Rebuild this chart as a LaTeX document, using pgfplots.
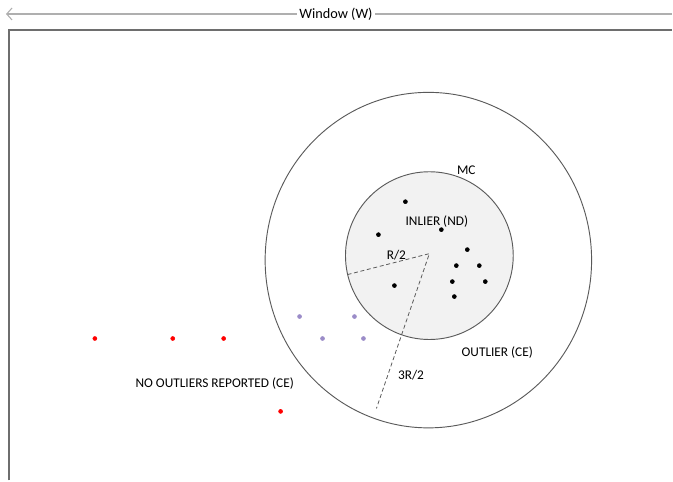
\documentclass[border=0pt]{standalone}
\usepackage{pgfplots}
\pgfplotsset{compat=1.18}
\usepackage{fontspec}
\setmainfont{Carlito}
\usetikzlibrary{arrows.meta}

\definecolor{linegray}{RGB}{90,90,90}
\definecolor{boxgray}{RGB}{110,110,110}
\definecolor{arrowgray}{RGB}{175,175,175}
\definecolor{fillgray}{RGB}{242,242,242}
\definecolor{ptpurple}{RGB}{155,140,200}

\begin{document}
\begin{tikzpicture}
  \begin{axis}[
      scale only axis,
      width=504.75pt, height=360.75pt,
      xmin=0, xmax=673, ymin=0, ymax=481,
      y dir=reverse,
      hide axis,
      clip=false,
      font=\fontsize{10}{12}\selectfont
    ]
    \path (rel axis cs:0,0) rectangle (rel axis cs:1,1);

    % window arrow and frame
    \draw[arrowgray, line width=1.5pt, {Straight Barb[length=4pt,width=9pt,line width=0.8pt]}-]
      (axis cs:6,14) -- (axis cs:673,14);
    \node[fill=white, inner sep=1.5pt, font=\fontsize{10.7}{13}\selectfont] at (axis cs:336.5,14) {Window (W)};
    \draw[boxgray, line width=1.1pt] (axis cs:9,481) -- (axis cs:9,30) -- (axis cs:673,30);

    % outer and inner regions
    \draw[linegray, line width=0.7pt] (axis cs:429,260.5) ellipse [x radius=122.6pt, y radius=126pt];
    \draw[linegray, line width=0.7pt, fill=fillgray] (axis cs:430,256) circle [radius=63pt];

    % radii
    \draw[linegray, line width=0.6pt, dash pattern=on 3pt off 2pt] (axis cs:348,275) -- (axis cs:430,254) -- (axis cs:377,409);

    % labels
    \node at (axis cs:467,170) {MC};
    \node at (axis cs:437.5,222) {INLIER (ND)};
    \node at (axis cs:397,256) {R/2};
    \node[anchor=west] at (axis cs:394,376) {3R/2};
    \node at (axis cs:498,353) {OUTLIER (CE)};
    \node at (axis cs:215,384) {NO OUTLIERS REPORTED (CE)};

    % inliers
    \addplot[only marks, mark=*, mark size=1.5pt, black] coordinates {
      (406,202) (379,235) (442,230) (468,250) (457,266) (480,266)
      (395,286) (453,282) (486,282) (455,297)
    };
    % outliers inside outer circle
    \addplot[only marks, mark=*, mark size=1.5pt, ptpurple] coordinates {
      (300,317) (355,317) (323,339) (364,339)
    };
    % points outside
    \addplot[only marks, mark=*, mark size=1.5pt, red] coordinates {
      (95,339) (173,339) (224,339) (281,412)
    };
  \end{axis}
\end{tikzpicture}
\end{document}
